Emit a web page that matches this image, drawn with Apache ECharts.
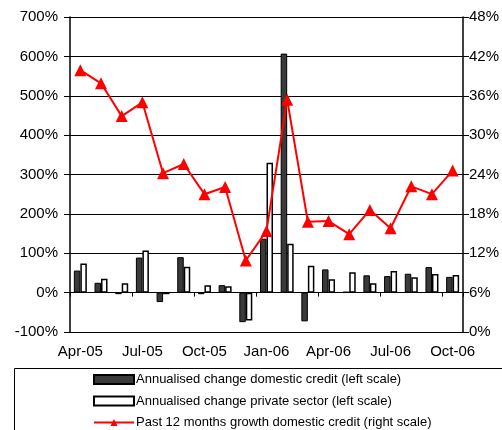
<!DOCTYPE html>
<html><head><meta charset="utf-8">
<script src="https://cdn.jsdelivr.net/npm/echarts@6/dist/echarts.min.js"></script>
<style>html,body{margin:0;padding:0;background:#fff}#c{width:502px;height:430px}</style>
</head><body><div id="c"></div>
<script>
var categories = ['Apr-05','May-05','Jun-05','Jul-05','Aug-05','Sep-05','Oct-05','Nov-05','Dec-05','Jan-06','Feb-06','Mar-06','Apr-06','May-06','Jun-06','Jul-06','Aug-06','Sep-06','Oct-06'];
var domesticCredit = [56, 25, -4, 89, -24, 90, -4, 19, -75, 137, 607, -73, 59, 2, 44, 42, 48, 65, 40];
var privateSector = [74, 35, 24, 107, -4, 66, 19, 16, -71, 330, 124, 68, 34, 52, 24, 55, 39, 47, 45];
var growth12m = [39.9, 37.9, 32.9, 35.0, 24.2, 25.6, 21.0, 22.1, 10.9, 15.4, 35.4, 16.8, 16.9, 14.9, 18.6, 15.8, 22.2, 21.0, 24.6];
var leftTicks = {min: -100, max: 700, interval: 100};
var rightTicks = {min: 0, max: 48, interval: 6};

var chart = echarts.init(document.getElementById('c'), null, {renderer: 'canvas'});
var font = 'Liberation Sans, Arial, sans-serif';
chart.setOption({
  animation: false,
  textStyle: {fontFamily: font},
  grid: {left: 70, right: 39, top: 17, bottom: 98, containLabel: false},
  graphic: [{type: 'rect', shape: {x: 14.5, y: 368.5, width: 520, height: 80}, style: {fill: 'none', stroke: '#000', lineWidth: 1}, z: 0}],
  legend: {
    orient: 'vertical', left: 93, top: 373, height: 80, padding: 0, itemWidth: 40, itemHeight: 9, itemGap: 8.5,
    textStyle: {fontFamily: font, fontSize: 13, color: '#000', padding: [0,0,0,-3]},
    data: [
      {name: 'Annualised change domestic credit (left scale)', icon: 'rect'},
      {name: 'Annualised change private sector (left scale)', icon: 'rect'},
      {name: 'Past 12 months growth domestic credit (right scale)'}
    ]
  },
  xAxis: [
    {type: 'category', data: categories, position: 'bottom', axisLine: {show: false, onZero: false},
     axisTick: {show: false}, axisLabel: {interval: 2, margin: 12, fontSize: 15, color: '#000', fontFamily: font}},
    {type: 'category', data: categories, position: 'top', axisLine: {show: true, onZero: true, onZeroAxisIndex: 0, lineStyle: {color: '#000', width: 1}},
     axisTick: {show: true, inside: true, length: 4, lineStyle: {color: '#000'}}, axisLabel: {show: false}}
  ],
  yAxis: [
    {type: 'value', min: leftTicks.min, max: leftTicks.max, interval: leftTicks.interval, position: 'left',
     axisLine: {show: true, lineStyle: {color: '#000', width: 1.5}}, axisTick: {show: true, length: 6, lineStyle: {color: '#000'}},
     axisLabel: {formatter: '{value}%', fontSize: 15, color: '#000', margin: 12, fontFamily: font},
     splitLine: {show: true, lineStyle: {color: '#000', width: 1}}},
    {type: 'value', min: rightTicks.min, max: rightTicks.max, interval: rightTicks.interval, position: 'right',
     axisLine: {show: true, lineStyle: {color: '#000', width: 1.5}}, axisTick: {show: true, length: 6, lineStyle: {color: '#000'}},
     axisLabel: {formatter: '{value}%', fontSize: 15, color: '#000', margin: 6, fontFamily: font},
     splitLine: {show: false}}
  ],
  series: [
    {name: 'Annualised change domestic credit (left scale)', type: 'bar', data: domesticCredit, xAxisIndex: 0, yAxisIndex: 0,
     barWidth: 6.5, barGap: '0%', itemStyle: {color: '#3a3a3a', borderColor: '#000', borderWidth: 1}},
    {name: 'Annualised change private sector (left scale)', type: 'bar', data: privateSector, xAxisIndex: 0, yAxisIndex: 0,
     barWidth: 6.5, barGap: '0%', itemStyle: {color: '#fff', borderColor: '#000', borderWidth: 1.5}},
    {name: 'Past 12 months growth domestic credit (right scale)', type: 'line', data: growth12m, xAxisIndex: 0, yAxisIndex: 1,
     symbol: 'triangle', symbolSize: 12, lineStyle: {color: '#ff0000', width: 2}, itemStyle: {color: '#ff0000'}, z: 5}
  ]
});
</script></body></html>
